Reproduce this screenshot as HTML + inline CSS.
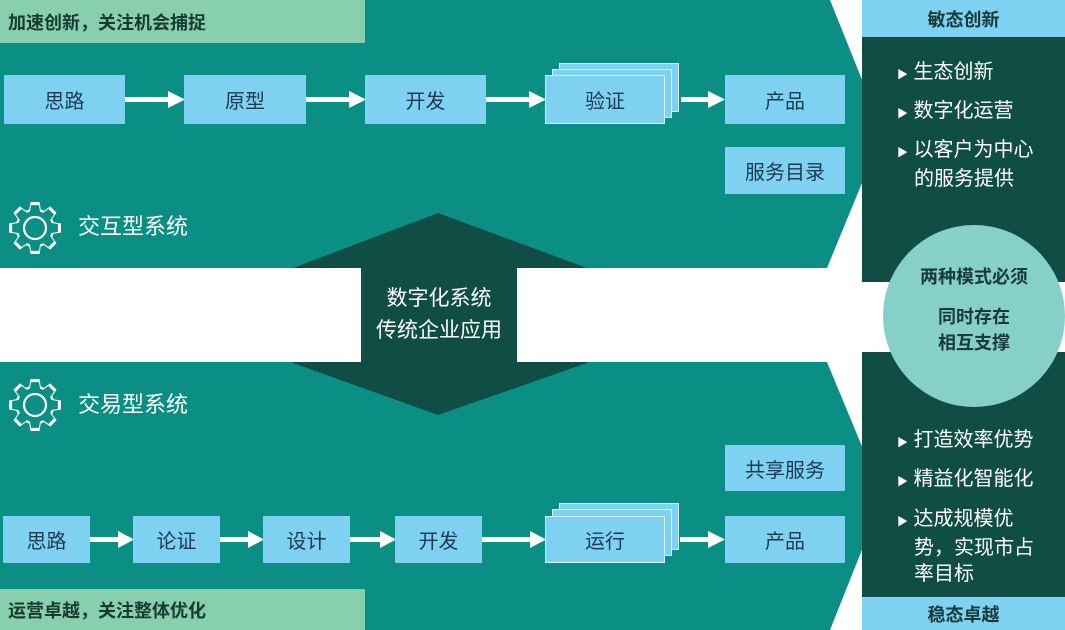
<!DOCTYPE html>
<html><head><meta charset="utf-8">
<style>
html,body{margin:0;padding:0;background:#fff;}
body{width:1065px;height:630px;position:relative;overflow:hidden;font-family:"Liberation Sans","Noto Sans CJK SC",sans-serif;}
.a{position:absolute;}
.box{position:absolute;background:#7fd1f2;color:#1c3a52;font-size:20px;display:flex;align-items:center;justify-content:center;box-sizing:border-box;}
.lay{position:absolute;background:#7fd1f2;border:1.5px solid #d8f2fb;box-sizing:border-box;}
.wt{position:absolute;color:#fff;font-size:20px;line-height:26px;}
.hd{position:absolute;background:#7fd1f2;color:#173a3a;font-weight:bold;font-size:18px;display:flex;align-items:center;justify-content:center;}
.lbl{position:absolute;background:#88d0ad;color:#173a33;font-weight:bold;font-size:18px;display:flex;align-items:center;padding-left:8px;box-sizing:border-box;}
</style></head><body>
<svg class="a" style="left:0;top:0" width="1065" height="630">
<polygon points="0,0 830,0 883,132 827,268 0,268" fill="#0b8f84"/>
<polygon points="0,362 827,362 883,497 830,630 0,630" fill="#0b8f84"/>
<polygon points="438,213 587,268 587,363 438,415 293,363 293,268" fill="#0f4d45"/>
<rect x="0" y="268" width="361" height="94" fill="#fff"/>
<rect x="517" y="268" width="345" height="94" fill="#fff"/>
<rect x="862" y="37" width="203" height="245" fill="#0f4d45"/>
<rect x="862" y="352" width="203" height="245" fill="#0f4d45"/>
<circle cx="974" cy="316" r="91" fill="#86d0c9"/>
<g fill="#fff">
<rect x="125" y="97" width="46" height="5"/><polygon points="168,91 185,99.5 168,108"/>
<rect x="306" y="97" width="46" height="5"/><polygon points="349,91 366,99.5 349,108"/>
<rect x="486" y="97" width="46" height="5"/><polygon points="529,91 546,99.5 529,108"/>
<rect x="681" y="97" width="30" height="5"/><polygon points="708,91 725,99.5 708,108"/>
<rect x="90" y="537" width="30" height="5"/><polygon points="118,531 134,539.5 118,548"/>
<rect x="220" y="537" width="30" height="5"/><polygon points="248,531 264,539.5 248,548"/>
<rect x="350" y="537" width="32" height="5"/><polygon points="380,531 396,539.5 380,548"/>
<rect x="482" y="537" width="50" height="5"/><polygon points="530,531 546,539.5 530,548"/>
<rect x="680" y="537" width="31" height="5"/><polygon points="708,531 725,539.5 708,548"/>
</g>
<defs><g id="gf"><circle r="19.5"/>
<g id="tt"><polygon points="17,-6 26,-4.5 26,4.5 17,6"/><polygon points="17,-6 26,-4.5 26,4.5 17,6" transform="rotate(90)"/><polygon points="17,-6 26,-4.5 26,4.5 17,6" transform="rotate(180)"/><polygon points="17,-6 26,-4.5 26,4.5 17,6" transform="rotate(270)"/></g>
<use href="#tt" transform="rotate(45)"/></g></defs>
<g transform="translate(35,228)"><use href="#gf" fill="#fff"/><use href="#gf" fill="#0b8f84" transform="scale(0.88)"/><circle r="11" fill="none" stroke="#fff" stroke-width="2.2"/></g>
<g transform="translate(35,405)"><use href="#gf" fill="#fff"/><use href="#gf" fill="#0b8f84" transform="scale(0.88)"/><circle r="11" fill="none" stroke="#fff" stroke-width="2.2"/></g>
</svg>
<div class="lbl" style="left:0;top:0;width:365px;height:43px;">加速创新，关注机会捕捉</div>
<div class="lbl" style="left:0;top:589px;width:365px;height:41px;">运营卓越，关注整体优化</div>
<div class="hd" style="left:862px;top:0;width:203px;height:37px;">敏态创新</div>
<div class="hd" style="left:862px;top:597px;width:203px;height:33px;">稳态卓越</div>

<div class="box" style="left:4px;top:75px;width:121px;height:49px;">思路</div>
<div class="box" style="left:184px;top:75px;width:122px;height:49px;">原型</div>
<div class="box" style="left:365px;top:75px;width:121px;height:49px;">开发</div>
<div class="lay" style="left:559px;top:63px;width:120px;height:49px;"></div>
<div class="lay" style="left:552px;top:69px;width:120px;height:49px;"></div>
<div class="box" style="left:545px;top:75px;width:120px;height:49px;border:1.5px solid #d8f2fb;">验证</div>
<div class="box" style="left:725px;top:75px;width:120px;height:49px;">产品</div>
<div class="box" style="left:725px;top:147px;width:120px;height:47px;">服务目录</div>

<div class="box" style="left:3px;top:516px;width:87px;height:47px;">思路</div>
<div class="box" style="left:133px;top:516px;width:87px;height:47px;">论证</div>
<div class="box" style="left:263px;top:516px;width:87px;height:47px;">设计</div>
<div class="box" style="left:395px;top:516px;width:87px;height:47px;">开发</div>
<div class="lay" style="left:559px;top:503px;width:120px;height:47px;"></div>
<div class="lay" style="left:552px;top:509px;width:120px;height:47px;"></div>
<div class="box" style="left:545px;top:516px;width:120px;height:47px;border:1.5px solid #d8f2fb;">运行</div>
<div class="box" style="left:725px;top:516px;width:120px;height:47px;">产品</div>
<div class="box" style="left:725px;top:445px;width:120px;height:46px;">共享服务</div>

<div class="wt" style="left:78px;top:212px;font-size:22px;line-height:30px;">交互型系统</div>
<div class="wt" style="left:78px;top:390px;font-size:22px;line-height:30px;">交易型系统</div>
<div class="wt" style="left:361px;top:283px;width:156px;text-align:center;font-size:21px;line-height:32px;">数字化系统<br>传统企业应用</div>

<div class="wt" style="left:897px;top:59px;"><span style="font-size:11px;">▶</span> 生态创新</div>
<div class="wt" style="left:897px;top:98px;"><span style="font-size:11px;">▶</span> 数字化运营</div>
<div class="wt" style="left:897px;top:137px;"><span style="font-size:11px;">▶</span> 以客户为中心<br><span style="padding-left:17px">的服务提供</span></div>
<div class="wt" style="left:897px;top:427px;"><span style="font-size:11px;">▶</span> 打造效率优势</div>
<div class="wt" style="left:897px;top:466px;"><span style="font-size:11px;">▶</span> 精益化智能化</div>
<div class="wt" style="left:897px;top:506px;"><span style="font-size:11px;">▶</span> 达成规模优<br><span style="padding-left:17px">势，实现市占</span><br><span style="padding-left:17px">率目标</span></div>

<div class="a" style="left:883px;top:264px;width:182px;text-align:center;color:#173a3a;font-size:18px;font-weight:bold;line-height:26px;">两种模式必须</div>
<div class="a" style="left:883px;top:304px;width:182px;text-align:center;color:#173a3a;font-size:18px;font-weight:bold;line-height:26px;">同时存在<br>相互支撑</div>
</body></html>
